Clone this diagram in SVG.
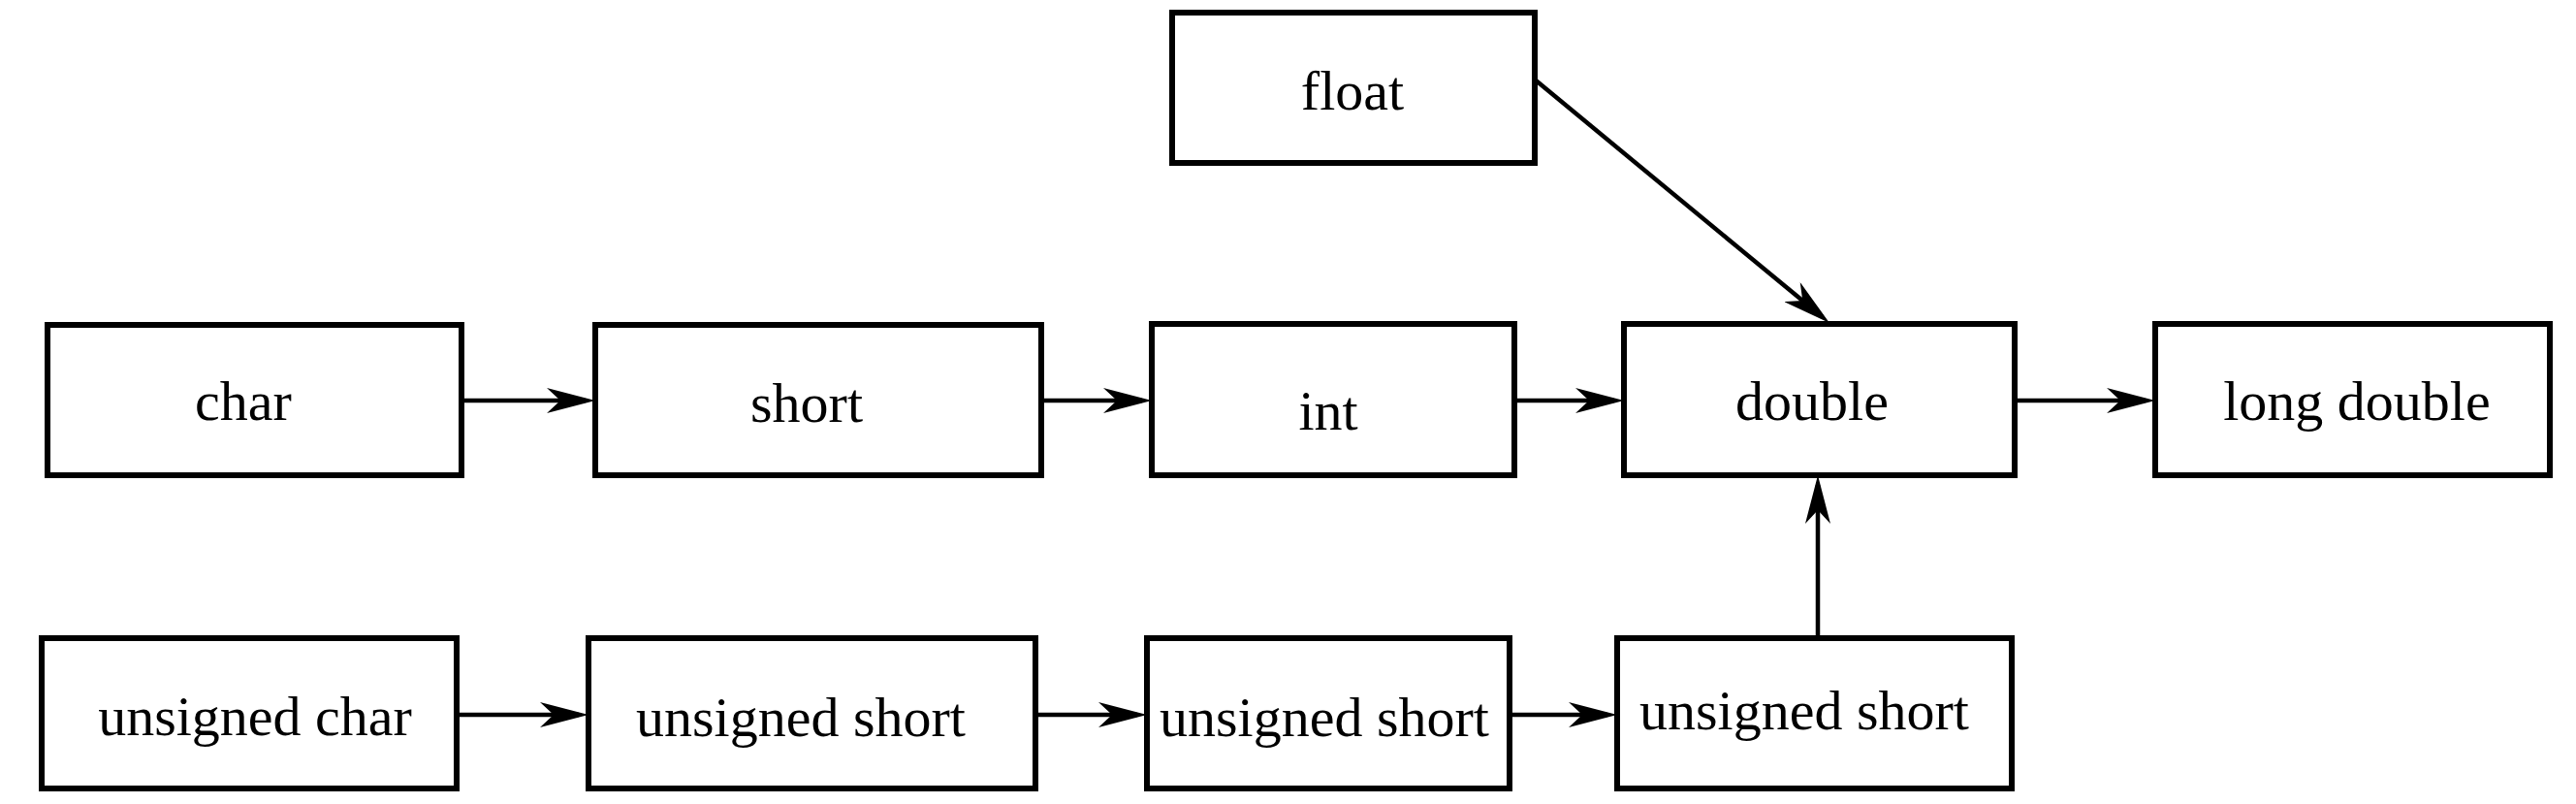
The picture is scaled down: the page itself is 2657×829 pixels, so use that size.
<svg xmlns="http://www.w3.org/2000/svg" width="2657" height="829" viewBox="0 0 2657 829">
<defs>
<style>
.box{fill:#fff;stroke:#000;stroke-width:6}
.lbl{font-family:"Liberation Serif","Times New Roman",serif;font-size:58px;fill:#000;text-anchor:middle}
.con{fill:none;stroke:#000;stroke-width:4.5;marker-end:url(#ah)}
</style>
<marker id="ah" viewBox="0 0 50 26" markerWidth="50" markerHeight="26" refX="40" refY="13" orient="auto" markerUnits="userSpaceOnUse">
<path d="M0,0 L50,13 L0,26 L14,13 Z" fill="#000"/>
</marker>
</defs>
<rect width="2657" height="829" fill="#fff"/>
<g id="connectors">
<line class="con" x1="476" y1="413" x2="604" y2="413"/>
<line class="con" x1="1074" y1="413" x2="1178" y2="413"/>
<line class="con" x1="1562" y1="413" x2="1665" y2="413"/>
<line class="con" x1="2078" y1="413" x2="2213" y2="413"/>
<line class="con" x1="1583" y1="82" x2="1879.3" y2="326.6"/>
<line class="con" x1="1875" y1="658" x2="1875" y2="500"/>
<line class="con" x1="471" y1="737" x2="597" y2="737"/>
<line class="con" x1="1068" y1="737" x2="1173" y2="737"/>
<line class="con" x1="1557" y1="737" x2="1658" y2="737"/>
</g>
<g id="float"><rect class="box" x="1209" y="13" width="374" height="155"/><text class="lbl" x="1395" y="113">float</text></g>
<g id="char"><rect class="box" x="49" y="335" width="427" height="155"/><text class="lbl" x="251" y="433">char</text></g>
<g id="short"><rect class="box" x="614" y="335" width="460" height="155"/><text class="lbl" x="832" y="435">short</text></g>
<g id="int"><rect class="box" x="1188" y="334" width="374" height="156"/><text class="lbl" x="1370" y="443">int</text></g>
<g id="double"><rect class="box" x="1675" y="334" width="403" height="156"/><text class="lbl" x="1869" y="433">double</text></g>
<g id="long-double"><rect class="box" x="2223" y="334" width="407" height="156"/><text class="lbl" x="2431" y="433">long double</text></g>
<g id="unsigned-char"><rect class="box" x="43" y="658" width="428" height="155"/><text class="lbl" x="263" y="758">unsigned char</text></g>
<g id="unsigned-short-1"><rect class="box" x="607" y="658" width="461" height="155"/><text class="lbl" x="826" y="759">unsigned short</text></g>
<g id="unsigned-short-2"><rect class="box" x="1183" y="658" width="374" height="155"/><text class="lbl" x="1366" y="759">unsigned short</text></g>
<g id="unsigned-short-3"><rect class="box" x="1668" y="658" width="407" height="155"/><text class="lbl" x="1861" y="752">unsigned short</text></g>
</svg>
